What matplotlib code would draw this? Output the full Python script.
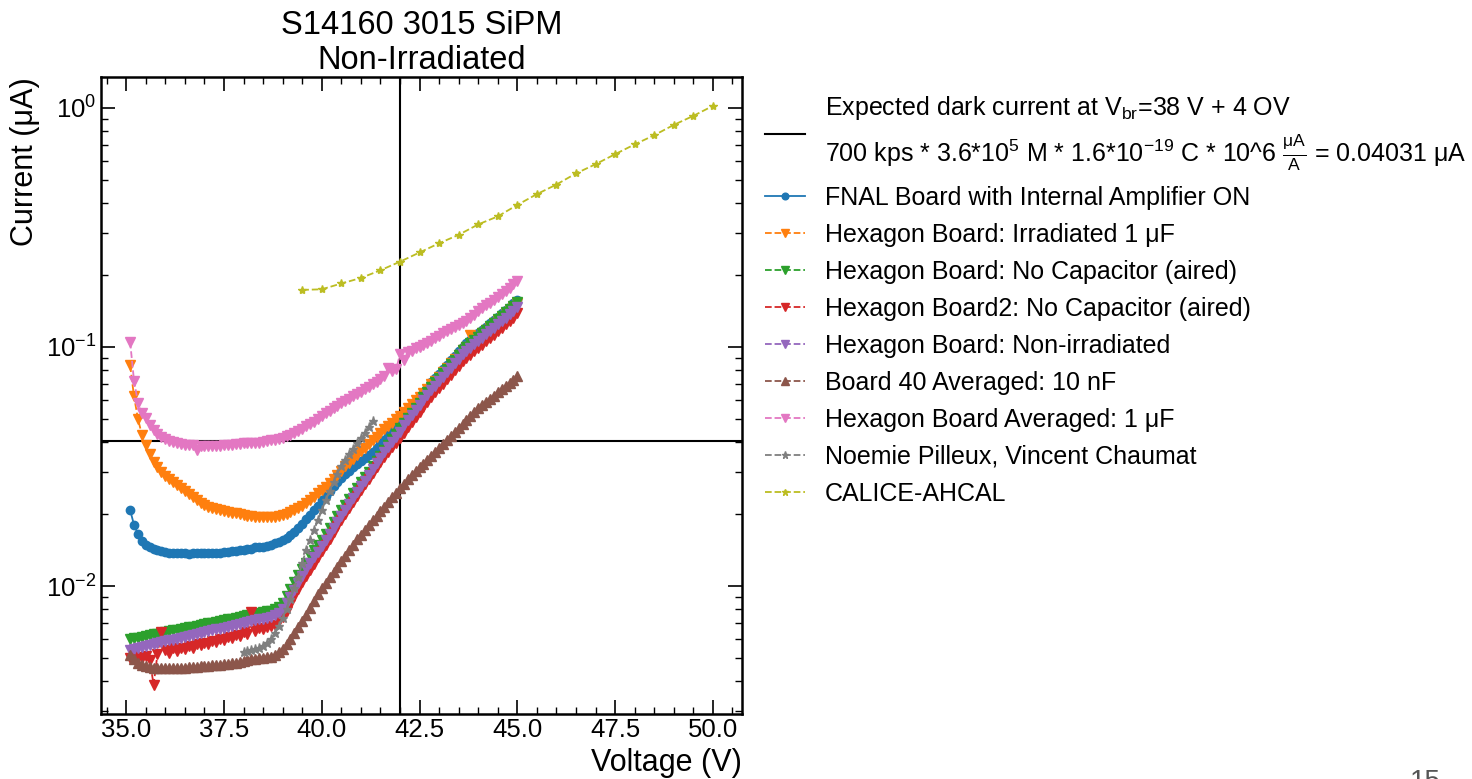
import numpy as np
import matplotlib
matplotlib.use("Agg")
import matplotlib.pyplot as plt
from matplotlib.ticker import MultipleLocator, LogLocator, NullFormatter

plt.rcParams['font.family'] = ['Liberation Sans', 'DejaVu Sans']
plt.rcParams['mathtext.fontset'] = 'custom'
plt.rcParams['mathtext.rm'] = 'Liberation Sans'
plt.rcParams['mathtext.it'] = 'Liberation Sans:italic'
plt.rcParams['mathtext.bf'] = 'Liberation Sans:bold'

# voltage grid of the hexagon / FNAL scans (V)
volt = np.round(np.arange(35.1, 45.05, 0.1), 1)

fnal = [0.0208, 0.0180, 0.0165, 0.0154, 0.0148, 0.0145, 0.0143, 0.0141, 0.0140, 0.0139,
        0.0138, 0.0138, 0.0137, 0.0137, 0.0137, 0.0136, 0.0137, 0.0137, 0.0137, 0.0137,
        0.0138, 0.0137, 0.0138, 0.0138, 0.0139, 0.0139, 0.0140, 0.0140, 0.0141, 0.0142,
        0.0143, 0.0143, 0.0145, 0.0145, 0.0146, 0.0147, 0.0149, 0.0151, 0.0153, 0.0156,
        0.0159, 0.0164, 0.0169, 0.0175, 0.0182, 0.0190, 0.0198, 0.0207, 0.0217, 0.0228,
        0.0239, 0.0250, 0.0262, 0.0272, 0.0283, 0.0293, 0.0304, 0.0315, 0.0325, 0.0334,
        0.0344, 0.0354, 0.0365, 0.0378, 0.0393, 0.0409, 0.0426, 0.0443, 0.0461, 0.0480,
        0.0504, 0.0530, 0.0556, 0.0583, 0.0612, 0.0644, 0.0676, 0.0710, 0.0741, 0.0773,
        0.0807, 0.0841, 0.0879, 0.0918, 0.0957, 0.1000, 0.1033, 0.1067, 0.1102, 0.1138,
        0.1175, 0.1213, 0.1253, 0.1294, 0.1337, 0.1380, 0.1426, 0.1472, 0.1520, 0.1570]

irr_1uF = [0.0837, 0.0620, 0.0500, 0.0430, 0.0390, 0.0355, 0.0330, 0.0315, 0.0300, 0.0288,
           0.0280, 0.0272, 0.0264, 0.0258, 0.0250, 0.0243, 0.0236, 0.0229, 0.0223, 0.0219,
           0.0215, 0.0212, 0.0209, 0.0207, 0.0205, 0.0203, 0.0202, 0.0201, 0.0200, 0.0198,
           0.0197, 0.0196, 0.0195, 0.0195, 0.0194, 0.0194, 0.0194, 0.0195, 0.0196, 0.0198,
           0.0200, 0.0203, 0.0207, 0.0212, 0.0217, 0.0222, 0.0229, 0.0236, 0.0244, 0.0251,
           0.0260, 0.0270, 0.0281, 0.0292, 0.0304, 0.0316, 0.0328, 0.0340, 0.0353, 0.0366,
           0.0379, 0.0393, 0.0407, 0.0421, 0.0436, 0.0452, 0.0467, 0.0482, 0.0497, 0.0512,
           0.0532, 0.0554, 0.0575, 0.0598, 0.0618, 0.0644, 0.0669, 0.0696, 0.0722, 0.0750,
           0.0783, 0.0816, 0.0853, 0.0890, 0.0928, 0.0970, 0.0998, 0.1120, 0.1069, 0.1104,
           0.1140, 0.1177, 0.1215, 0.1255, 0.1297, 0.1339, 0.1383, 0.1428, 0.1474, 0.1523]

nocap = [0.00600, 0.00605, 0.00609, 0.00614, 0.00618, 0.00623, 0.00628, 0.00632, 0.00637, 0.00642,
         0.00647, 0.00652, 0.00657, 0.00662, 0.00667, 0.00672, 0.00677, 0.00682, 0.00687, 0.00693,
         0.00698, 0.00703, 0.00709, 0.00714, 0.00720, 0.00725, 0.00731, 0.00736, 0.00742, 0.00748,
         0.00754, 0.00759, 0.00765, 0.00771, 0.00777, 0.00783, 0.00789, 0.00800, 0.00815, 0.00850,
         0.0091, 0.0097, 0.0104, 0.0111, 0.0118, 0.0125, 0.0133, 0.0141, 0.0148, 0.0156,
         0.0165, 0.0175, 0.0186, 0.0196, 0.0207, 0.0219, 0.0231, 0.0244, 0.0257, 0.0271,
         0.0285, 0.0300, 0.0316, 0.0333, 0.0351, 0.0370, 0.0390, 0.0411, 0.0433, 0.0456,
         0.0479, 0.0505, 0.0530, 0.0556, 0.0584, 0.0616, 0.0647, 0.0680, 0.0711, 0.0742,
         0.0776, 0.0809, 0.0846, 0.0885, 0.0924, 0.0966, 0.0999, 0.1033, 0.1068, 0.1104,
         0.1141, 0.1179, 0.1219, 0.1260, 0.1304, 0.1347, 0.1393, 0.1440, 0.1488, 0.1539]

nocap2 = [0.00500, 0.00515, 0.00505, 0.00498, 0.00510, 0.00492, 0.00387, 0.00520, 0.00640, 0.00540,
          0.00525, 0.00548, 0.00535, 0.00552, 0.00545, 0.00560, 0.00548, 0.00570, 0.00565, 0.00578,
          0.00570, 0.00590, 0.00582, 0.00600, 0.00595, 0.00612, 0.00605, 0.00625, 0.00618, 0.00640,
          0.00632, 0.00775, 0.00650, 0.00665, 0.00658, 0.00675, 0.00680, 0.00690, 0.00712, 0.00745,
          0.00790, 0.00845, 0.00905, 0.00970, 0.01035, 0.0110, 0.0117, 0.0124, 0.0132, 0.0140,
          0.0149, 0.0158, 0.0168, 0.0178, 0.0189, 0.0200, 0.0212, 0.0225, 0.0238, 0.0252,
          0.0266, 0.0281, 0.0297, 0.0313, 0.0329, 0.0346, 0.0363, 0.0380, 0.0397, 0.0414,
          0.0438, 0.0461, 0.0484, 0.0507, 0.0532, 0.0560, 0.0588, 0.0618, 0.0645, 0.0673,
          0.0702, 0.0732, 0.0765, 0.0799, 0.0833, 0.0870, 0.0899, 0.0928, 0.0959, 0.0990,
          0.1022, 0.1055, 0.1090, 0.1126, 0.1163, 0.1201, 0.1241, 0.1281, 0.1322, 0.1380]

nonirr = [0.00542, 0.00547, 0.00552, 0.00557, 0.00561, 0.00566, 0.00571, 0.00576, 0.00581, 0.00587,
          0.00592, 0.00597, 0.00602, 0.00608, 0.00613, 0.00619, 0.00624, 0.00630, 0.00635, 0.00641,
          0.00646, 0.00652, 0.00658, 0.00664, 0.00670, 0.00676, 0.00682, 0.00688, 0.00694, 0.00700,
          0.00706, 0.00712, 0.00719, 0.00725, 0.00731, 0.00738, 0.00745, 0.00755, 0.00772, 0.00800,
          0.0085, 0.0090, 0.0096, 0.0103, 0.0110, 0.0118, 0.0125, 0.0132, 0.0139, 0.0147,
          0.0156, 0.0165, 0.0175, 0.0185, 0.0196, 0.0208, 0.0220, 0.0233, 0.0247, 0.0261,
          0.0276, 0.0292, 0.0309, 0.0326, 0.0344, 0.0363, 0.0382, 0.0401, 0.0421, 0.0441,
          0.0469, 0.0493, 0.0517, 0.0542, 0.0569, 0.0599, 0.0629, 0.0660, 0.0689, 0.0719,
          0.0751, 0.0782, 0.0817, 0.0854, 0.0890, 0.0930, 0.0961, 0.0992, 0.1025, 0.1058,
          0.1093, 0.1128, 0.1165, 0.1203, 0.1243, 0.1283, 0.1326, 0.1369, 0.1414, 0.1470]

board40 = [0.00517, 0.00495, 0.00478, 0.00468, 0.00462, 0.00458, 0.00455, 0.00455, 0.00454, 0.00453,
           0.00454, 0.00453, 0.00455, 0.00454, 0.00456, 0.00457, 0.00458, 0.00460, 0.00461, 0.00462,
           0.00464, 0.00466, 0.00468, 0.00469, 0.00470, 0.00472, 0.00475, 0.00478, 0.00482, 0.00487,
           0.00491, 0.00494, 0.00497, 0.00500, 0.00502, 0.00504, 0.00507, 0.00515, 0.00528, 0.00546,
           0.00570, 0.00600, 0.00635, 0.00672, 0.00712, 0.00760, 0.00812, 0.00866, 0.00924, 0.00980,
           0.0103, 0.0109, 0.0114, 0.0120, 0.0127, 0.0134, 0.0141, 0.0149, 0.0157, 0.0164,
           0.0172, 0.0180, 0.0188, 0.0197, 0.0206, 0.0215, 0.0225, 0.0235, 0.0245, 0.0256,
           0.0267, 0.0279, 0.0290, 0.0302, 0.0313, 0.0325, 0.0338, 0.0351, 0.0364, 0.0379,
           0.0393, 0.0409, 0.0424, 0.0441, 0.0458, 0.0475, 0.0494, 0.0513, 0.0532, 0.0553,
           0.0571, 0.0588, 0.0607, 0.0625, 0.0645, 0.0665, 0.0686, 0.0708, 0.0730, 0.0753]

avg_1uF = [0.1050, 0.0720, 0.0585, 0.0531, 0.0504, 0.0470, 0.0450, 0.0432, 0.0418, 0.0410,
           0.0404, 0.0399, 0.0395, 0.0392, 0.0390, 0.0389, 0.0387, 0.0372, 0.0386, 0.0385,
           0.0384, 0.0385, 0.0385, 0.0386, 0.0387, 0.0389, 0.0390, 0.0392, 0.0394, 0.0395,
           0.0396, 0.0397, 0.0397, 0.0398, 0.0400, 0.0403, 0.0406, 0.0409, 0.0413, 0.0417,
           0.0423, 0.0430, 0.0437, 0.0446, 0.0455, 0.0465, 0.0476, 0.0487, 0.0499, 0.0512,
           0.0527, 0.0540, 0.0553, 0.0566, 0.0580, 0.0594, 0.0608, 0.0621, 0.0635, 0.0649,
           0.0664, 0.0680, 0.0697, 0.0714, 0.0732, 0.0752, 0.0818, 0.0790, 0.0805, 0.0930,
           0.0880, 0.0950, 0.0965, 0.0985, 0.1003, 0.1022, 0.1042, 0.1062, 0.1085, 0.1110,
           0.1137, 0.1164, 0.1185, 0.1207, 0.1230, 0.1253, 0.1285, 0.1325, 0.1365, 0.1410,
           0.1450, 0.1490, 0.1530, 0.1570, 0.1612, 0.1660, 0.1715, 0.1770, 0.1825, 0.1884]

# Noemie Pilleux, Vincent Chaumat
np_volt = np.round(np.arange(38.0, 41.35, 0.1), 1)
np_cur = [0.00530, 0.00534, 0.00539, 0.00545, 0.00552, 0.00560, 0.00577, 0.00600, 0.00635, 0.00680,
          0.00735, 0.00805, 0.00885, 0.00980, 0.0109, 0.0125, 0.0141, 0.0156, 0.0171, 0.0188,
          0.0207, 0.0228, 0.0250, 0.0272, 0.0295, 0.0318, 0.0338, 0.0357, 0.0375, 0.0395,
          0.0415, 0.0438, 0.0463, 0.0490]

# CALICE-AHCAL
cal_volt = [39.5, 40.0, 40.5, 41.0, 41.5, 42.0, 42.5, 43.0, 43.5, 44.0, 44.5,
            45.0, 45.5, 46.0, 46.5, 47.0, 47.5, 48.0, 48.5, 49.0, 49.5, 50.0]
cal_cur = [0.173, 0.174, 0.184, 0.194, 0.209, 0.227, 0.248, 0.271, 0.294, 0.325, 0.351,
           0.392, 0.435, 0.477, 0.531, 0.580, 0.639, 0.702, 0.767, 0.847, 0.924, 1.017]

expected = 0.04031
v_op = 42

fig = plt.figure(figsize=(14.72, 7.79), dpi=100)
ax = fig.add_axes([0.0686, 0.0840, 0.4355, 0.8172])

ax.axhline(expected, color='black', lw=1.5,
           label='Expected dark current at V$_{\\mathregular{br}}$=38 V + 4 OV\n'
                 '700 kps * 3.6*10$^{\\mathregular{5}}$ M * 1.6*10$^{\\mathregular{-19}}$ C * 10^6 '
                 '$\\frac{\\mathregular{\u03bcA}}{\\mathregular{A}}$ = 0.04031 \u03bcA')
ax.axvline(v_op, color='black', lw=1.5)

ax.plot(volt, fnal, '-o', color='#1f77b4', ms=6, lw=1.3, label='FNAL Board with Internal Amplifier ON')
ax.plot(volt, irr_1uF, '--v', color='#ff7f0e', ms=6.5, lw=1.3, label='Hexagon Board: Irradiated 1 \u03bcF')
ax.plot(volt, nocap, '--v', color='#2ca02c', ms=6.5, lw=1.3, label='Hexagon Board: No Capacitor (aired)')
ax.plot(volt, nocap2, '--v', color='#d62728', ms=6.5, lw=1.3, label='Hexagon Board2: No Capacitor (aired)')
ax.plot(volt, nonirr, '--v', color='#9467bd', ms=6.5, lw=1.3, label='Hexagon Board: Non-irradiated')
ax.plot(volt, board40, '--^', color='#8c564b', ms=6.5, lw=1.3, label='Board 40 Averaged: 10 nF')
ax.plot(volt, avg_1uF, '--v', color='#e377c2', ms=6.5, lw=1.3, label='Hexagon Board Averaged: 1 \u03bcF')
ax.plot(np_volt, np_cur, '--*', color='#7f7f7f', ms=6.5, lw=1.3, label='Noemie Pilleux, Vincent Chaumat')
ax.plot(cal_volt, cal_cur, '--*', color='#bcbd22', ms=6, lw=1.3, label='CALICE-AHCAL')

ax.set_yscale('log')
ax.xaxis.set_major_locator(MultipleLocator(2.5))
ax.xaxis.set_minor_locator(MultipleLocator(0.5))
ax.yaxis.set_major_locator(LogLocator(base=10))
ax.yaxis.set_minor_locator(LogLocator(base=10, subs=np.arange(2, 10)))
ax.yaxis.set_minor_formatter(NullFormatter())
ax.tick_params(which='both', direction='in', top=True, right=True, labelsize=18.5)
ax.tick_params(which='major', length=10, width=1.2)
ax.tick_params(which='minor', length=5, width=1.0)
for s in ax.spines.values():
    s.set_linewidth(1.8)

ax.set_xlabel('Voltage (V)', fontsize=22, loc='right')
ax.set_ylabel('Current (\u03bcA)', fontsize=22, loc='top')
ax.set_title('S14160 3015 SiPM\nNon-Irradiated', fontsize=23.5, pad=6, linespacing=1.15)

leg = ax.legend(loc='upper left', bbox_to_anchor=(1.036, 0.973), frameon=False, fontsize=18,
                borderpad=0, borderaxespad=0, handlelength=1.6, handletextpad=0.8,
                labelspacing=0.52, markerscale=0.8)
leg.get_texts()[0].set_linespacing(1.35)

fig.text(0.968, -0.004, '15', fontsize=20, color='#555555', ha='center', va='center')

fig.savefig('out.png', dpi=100)
